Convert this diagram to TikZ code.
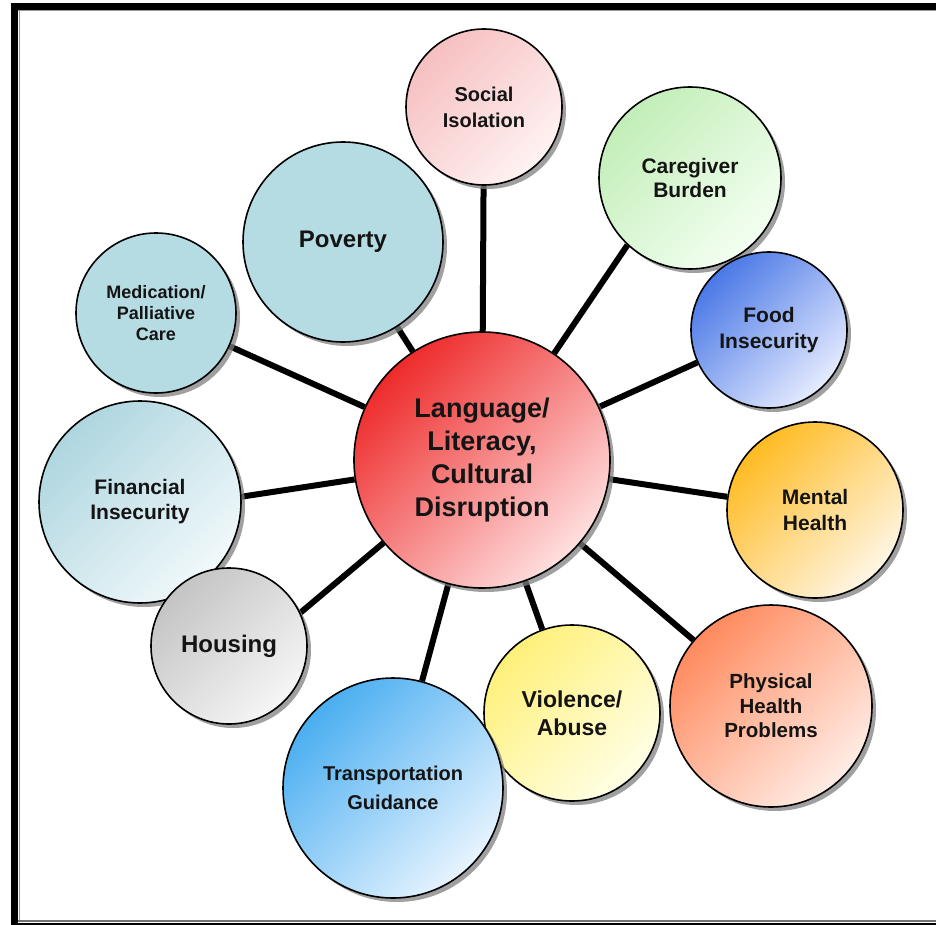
\documentclass[tikz,border=0pt]{standalone}
\usepackage{fontspec}
\setmainfont{Liberation Sans}
\usetikzlibrary{shadows,backgrounds}
\definecolor{redA}{HTML}{EE2A2A}\definecolor{redB}{HTML}{FFE0E0}
\definecolor{pinkA}{HTML}{F6BFC0}\definecolor{pinkB}{HTML}{FFF3F3}
\definecolor{greenA}{HTML}{C2EEB8}\definecolor{greenB}{HTML}{F4FFF2}
\definecolor{blueA}{HTML}{4A78E6}\definecolor{blueB}{HTML}{E6ECFF}
\definecolor{orA}{HTML}{FFBB22}\definecolor{orB}{HTML}{FFF6E6}
\definecolor{salA}{HTML}{FF8A5E}\definecolor{salB}{HTML}{FFEDE6}
\definecolor{yelA}{HTML}{FFF07A}\definecolor{yelB}{HTML}{FFFFE6}
\definecolor{skyA}{HTML}{4AAEF0}\definecolor{skyB}{HTML}{E8F4FF}
\definecolor{grayA}{HTML}{C4C4C4}\definecolor{grayB}{HTML}{F6F6F6}
\definecolor{tealA}{HTML}{AED6DF}\definecolor{tealB}{HTML}{F2F9FB}
\definecolor{tealC}{HTML}{B6DCE3}
\begin{document}
\begin{tikzpicture}[x=1pt,y=-1pt,
  bub/.style={circle, draw=black, line width=1.6pt, inner sep=0pt, align=center,
    text=black!92,
    drop shadow={shadow xshift=4pt, shadow yshift=-4pt, fill=black!50, opacity=0.75}},
  grad/.style 2 args={top color=#1, bottom color=#2, middle color={#1!50!#2}, shading angle=45},
  fsz/.style 2 args={font=\fontsize{#1}{#2}\selectfont\bfseries},
  link/.style={line width=6pt, draw=black}]
\useasboundingbox (0,0) rectangle (936,925);
% frame
\draw[line width=7pt] (14.5,3) -- (14.5,925);
\draw[line width=7pt] (11,6.5) -- (936,6.5);
\draw[line width=1pt, black!40] (19,10) -- (19,921);
\draw[line width=1pt, black!40] (18,11) -- (936,11);
\draw[line width=2pt, black!55] (18,921) -- (936,921);
\draw[line width=2pt, black] (11,924) -- (936,924);

\node[bub, grad={redA}{redB}, minimum size=256pt, fsz={27}{33}] (lang) at (482,460) {Language/\\Literacy,\\Cultural\\Disruption};
\node[bub, grad={pinkA}{pinkB}, minimum size=156pt, fsz={20}{26}] (soc) at (484,107) {Social\\Isolation};
\node[bub, grad={greenA}{greenB}, minimum size=182pt, fsz={21}{24}] (care) at (690,178) {Caregiver\\Burden};
\node[bub, grad={blueA}{blueB}, minimum size=156pt, fsz={21}{26}] (food) at (769,330) {Food\\Insecurity};
\node[bub, grad={orA}{orB}, minimum size=176pt, fsz={21}{26}] (ment) at (815,510) {Mental\\Health};
\node[bub, grad={salA}{salB}, minimum size=202pt, fsz={20.5}{24.5}] (phys) at (771,706) {Physical\\Health\\Problems};
\node[bub, grad={yelA}{yelB}, minimum size=176pt, fsz={23}{28}] (viol) at (572,713) {Violence/\\Abuse};
\node[bub, grad={skyA}{skyB}, minimum size=220pt, fsz={20}{29}] (trans) at (393,788) {Transportation\\Guidance};
\node[bub, grad={tealA}{tealB}, minimum size=202pt, fsz={21}{25}] (fin) at (140,502) {Financial\\Insecurity};
\node[bub, grad={grayA}{grayB}, minimum size=156pt, fsz={24}{28}] (hous) at (229,646) {Housing};
\node[bub, fill=tealC, minimum size=160pt, fsz={18}{21}] (med) at (156,313) {Medication/\\Palliative\\Care};
\node[bub, fill=tealC, minimum size=200pt, fsz={24}{28}] (pov) at (343,242) {Poverty};

\begin{scope}[on background layer]
\foreach \s in {soc,food,ment,phys,viol,trans,med,pov}
  \draw[link] (lang) -- (\s);
\draw[link] (lang) -- (care.227);
\draw[link] (lang) -- (fin.3);
\draw[link] (lang) -- (hous.25);
\end{scope}
\end{tikzpicture}
\end{document}
